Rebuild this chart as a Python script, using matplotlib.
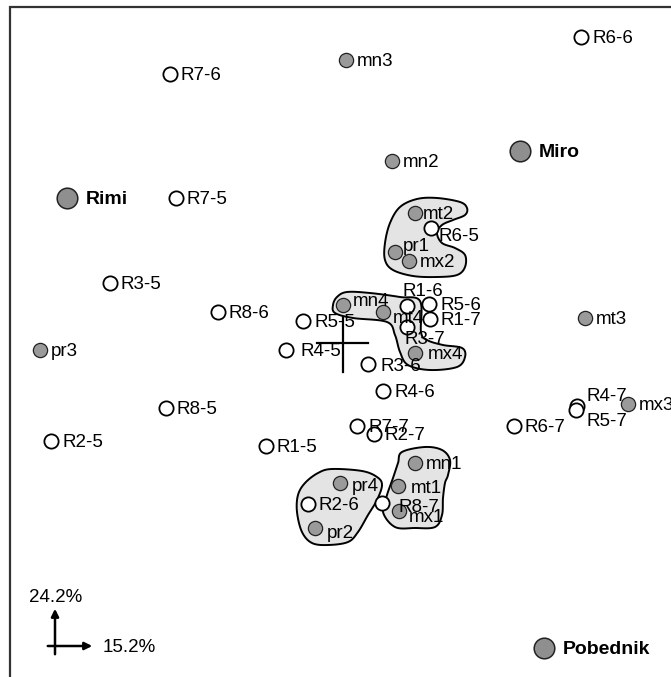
import matplotlib
matplotlib.use("Agg")
import matplotlib.pyplot as plt
from matplotlib.patches import Polygon, Rectangle
import numpy as np

plt.rcParams['font.family'] = ['Liberation Sans', 'DejaVu Sans']

# map coordinates (screen-like units, y grows downward)
open_names = ['R6-6', 'R7-6', 'R7-5', 'R6-5', 'R3-5', 'R8-6', 'R5-5', 'R1-6', 'R5-6',
              'R1-7', 'R3-7', 'R4-5', 'R3-6', 'R4-6', 'R8-5', 'R7-7', 'R2-7', 'R2-5',
              'R1-5', 'R6-7', 'R4-7', 'R5-7', 'R2-6', 'R8-7']
open_x = [581, 170, 176, 431, 110, 218, 303, 407, 429, 430, 407, 286, 368, 383, 166, 357,
          374, 51, 266, 514, 577, 576, 308, 382]
open_y = [37, 74, 198, 228, 283, 312, 321, 306, 304, 319, 327, 350, 364, 391, 408, 426,
          434, 441, 446, 426, 406, 410, 504, 503]

gray_names = ['mn3', 'mn2', 'mt2', 'pr1', 'mx2', 'mn4', 'mt4', 'mx4', 'mt3', 'pr3',
              'mx3', 'mn1', 'mt1', 'mx1', 'pr4', 'pr2']
gray_x = [346, 392, 415, 395, 409, 343, 383, 415, 585, 40, 628, 415, 398, 399, 340, 315]
gray_y = [60, 161, 213, 252, 261, 305, 312, 353, 318, 350, 404, 463, 486, 511, 483, 528]

big_names = ['Rimi', 'Miro', 'Pobednik']
big_x = [67, 520, 544]
big_y = [198, 151, 648]

# outlines of the groups
blob1_x = [417, 437, 460, 467, 465, 453, 442, 437, 442, 455, 465, 465, 457, 437, 413, 393, 385, 385, 390, 400]
blob1_y = [199, 198, 202, 208, 215, 220, 225, 233, 243, 248, 255, 267, 275, 277, 276, 270, 260, 243, 223, 207]
blob2_x = [347, 370, 400, 420, 421, 427, 443, 462, 465, 457, 430, 408, 400, 395, 387, 353, 335, 333, 337]
blob2_y = [292, 293, 297, 301, 332, 340, 345, 348, 357, 367, 370, 365, 352, 335, 322, 318, 313, 305, 297]
blob3_x = [332, 362, 377, 382, 377, 368, 358, 348, 328, 312, 302, 297, 298, 305, 318]
blob3_y = [469, 471, 477, 485, 500, 515, 532, 542, 545, 543, 532, 512, 495, 483, 473]
blob4_x = [402, 425, 442, 450, 448, 445, 443, 442, 435, 415, 395, 383, 387, 393, 398]
blob4_y = [452, 447, 450, 460, 475, 483, 498, 515, 527, 528, 527, 512, 495, 478, 463]

# label offsets (px) where the default right-hand placement is not used
label_off = {'R1-6': (-5, -16), 'R3-7': (-2, 11), 'R4-7': (10, -11), 'R5-7': (11, 10),
             'R8-7': (17, 3), 'mx1': (10, 5), 'mt4': (10, 5), 'pr1': (8, -7),
             'R6-5': (8, 7), 'mn4': (10, -5), 'pr2': (12, 4), 'pr4': (12, 2),
             'R5-5': (12, 0), 'R4-5': (14, 0), 'R3-6': (13, 1), 'mt1': (13, 1),
             'mx4': (13, 0), 'mt2': (8, 0)}

FS = 13.5
TY = 1.5  # text sits a touch lower than matplotlib's centre


def smooth_closed(xs, ys, n=20):
    p = np.column_stack([xs, ys]).astype(float)
    m = len(p)
    out = []
    for i in range(m):
        p0, p1, p2, p3 = p[i - 1], p[i], p[(i + 1) % m], p[(i + 2) % m]
        for t in np.linspace(0, 1, n, endpoint=False):
            t2, t3 = t * t, t * t * t
            out.append(0.5 * ((2 * p1) + (-p0 + p2) * t + (2 * p0 - 5 * p1 + 4 * p2 - p3) * t2
                              + (-p0 + 3 * p1 - 3 * p2 + p3) * t3))
    return np.array(out)


W, H = 671, 677
fig = plt.figure(figsize=(W / 100, H / 100), dpi=100)
ax = fig.add_axes([0, 0, 1, 1])
ax.set_xlim(0, W)
ax.set_ylim(H, 0)
ax.axis('off')

# frame (only left and top edges fall inside the picture)
fig.add_artist(Rectangle((10 / W, -0.5), 1.2, 1.5 - 7 / H, transform=fig.transFigure,
                         fill=False, edgecolor='#333333', linewidth=1.6))

# origin cross
ax.plot([343, 343], [300, 372], color='black', lw=1.6, zorder=1)
ax.plot([317, 368], [343, 343], color='black', lw=1.6, zorder=1)

for bx, by in [(blob1_x, blob1_y), (blob2_x, blob2_y), (blob3_x, blob3_y), (blob4_x, blob4_y)]:
    pts = smooth_closed(bx, by)
    ax.add_patch(Polygon(pts, closed=True, facecolor='#e4e4e4', edgecolor='black',
                         linewidth=1.4, zorder=2))

ax.scatter(gray_x, gray_y, s=105, facecolor='#9a9a9a', edgecolor='#222222', linewidth=0.9, zorder=3)
ax.scatter(open_x, open_y, s=105, facecolor='white', edgecolor='black', linewidth=1.3, zorder=4)
ax.scatter(big_x, big_y, s=220, facecolor='#8f8f8f', edgecolor='#222222', linewidth=1.1, zorder=4)

for names, xs, ys in [(open_names, open_x, open_y), (gray_names, gray_x, gray_y)]:
    for nm, x, y in zip(names, xs, ys):
        dx, dy = label_off.get(nm, (11, 0))
        ax.text(x + dx, y + dy + TY, nm, fontsize=FS, ha='left', va='center', zorder=5)

for nm, x, y in zip(big_names, big_x, big_y):
    ax.text(x + 19, y + TY, nm, fontsize=14, fontweight='bold', ha='left', va='center', zorder=5)

# axis scale arrows
ax.annotate('', xy=(55, 606), xytext=(55, 657),
            arrowprops=dict(arrowstyle='-|>', color='black', lw=1.8, mutation_scale=11))
ax.annotate('', xy=(95, 646), xytext=(45, 646),
            arrowprops=dict(arrowstyle='-|>', color='black', lw=1.8, mutation_scale=11))
ax.text(29, 596 + TY, '24.2%', fontsize=FS, ha='left', va='center')
ax.text(103, 646 + TY, '15.2%', fontsize=FS, ha='left', va='center')

fig.savefig('out.png', dpi=100)
